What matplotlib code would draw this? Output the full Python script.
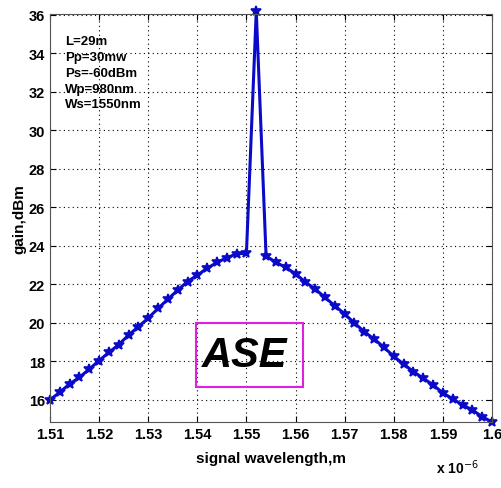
import numpy as np
from matplotlib import pyplot as plt
from matplotlib.patches import Rectangle

plt.rcParams['font.family'] = ['Liberation Sans', 'DejaVu Sans']

# signal wavelength in units of 1e-6 m, 2 nm spacing
wavelength = np.round(np.arange(1.510, 1.6001, 0.002), 3)

# gain (dBm)
gain_left = [16.0, 16.4, 16.83, 17.17, 17.6, 18.04, 18.47, 18.87, 19.37, 19.8,
             20.25, 20.75, 21.23, 21.7, 22.15, 22.48, 22.84, 23.14, 23.39, 23.58,
             23.63]
gain_peak = [36.2]
gain_right = [23.47, 23.15, 22.88, 22.55, 22.12, 21.76, 21.32, 20.89, 20.46, 19.99,
              19.54, 19.16, 18.73, 18.26, 17.86, 17.47, 17.12, 16.78, 16.36, 16.05,
              15.74, 15.48, 15.12, 14.86]
gain = gain_left + gain_peak + gain_right

params = ["L=29m", "Pp=30mw", "Ps=-60dBm", "Wp=980nm", "Ws=1550nm"]


def main():
    fig = plt.figure(figsize=(5.01, 4.89), dpi=100)
    ax = fig.add_axes([50 / 501, 1 - 423 / 489, 442 / 501, 408 / 489])

    ax.plot(wavelength, gain, "-*", color="#0a0ac8", lw=2.2, ms=7, mew=1.2,
            clip_on=False)

    ax.set_xlim(1.51, 1.6)
    ax.set_ylim(14.85, 36.05)
    ax.set_xticks(np.arange(1.51, 1.6001, 0.01))
    ax.set_xticklabels(["1.51", "1.52", "1.53", "1.54", "1.55", "1.56",
                        "1.57", "1.58", "1.59", "1.6"])
    ax.set_yticks(np.arange(16, 37, 2))
    ax.tick_params(direction="in", length=4, labelsize=10.5, width=0.8,
                   top=True, right=True)
    for lab in ax.get_xticklabels() + ax.get_yticklabels():
        lab.set_fontweight("bold")
    ax.grid(True, ls=(0, (1, 3)), color="k", lw=0.8)
    for s in ax.spines.values():
        s.set_color("#555555")

    ax.set_xlabel("signal wavelength,m", fontsize=11, fontweight="bold", labelpad=7)
    ax.set_ylabel("gain,dBm", fontsize=11, fontweight="bold", labelpad=2)
    fig.text(457 / 501, 1 - 468 / 489, r"x 10$^{-6}$", fontsize=10,
             fontweight="bold", ha="center", va="center")

    ax.text(1.5131, 34.95, "\n".join(params), fontsize=9.5, fontweight="bold",
            va="top", ha="left", linespacing=1.42)

    ax.add_patch(Rectangle((1.5397, 16.67), 0.0218, 3.32, fill=False,
                           ec="#e020e0", lw=1.5, zorder=4))
    ax.text(1.5497, 18.33, "ASE", fontsize=30, fontweight="bold", style="italic",
            ha="center", va="center", zorder=5)

    fig.savefig("out.png", dpi=100)


if __name__ == "__main__":
    main()
